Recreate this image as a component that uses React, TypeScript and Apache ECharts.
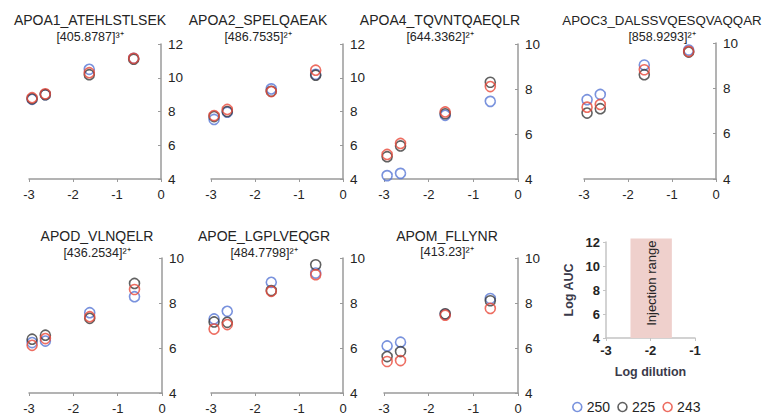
import React, { useEffect, useRef } from "react";
import * as echarts from "echarts";

const xDilution = [-2.93, -2.63, -1.63, -0.62];
const seriesNames = ["250", "225", "243"];
const seriesColors = ["#5877d4", "#3a3a3a", "#e8483a"];

const panelTitles = [
  "APOA1_ATEHLSTLSEK",
  "APOA2_SPELQAEAK",
  "APOA4_TQVNTQAEQLR",
  "APOC3_DALSSVQESQVAQQAR",
  "APOD_VLNQELR",
  "APOE_LGPLVEQGR",
  "APOM_FLLYNR",
];
const panelSubtitles = [
  "[405.8787]³⁺",
  "[486.7535]²⁺",
  "[644.3362]²⁺",
  "[858.9293]²⁺",
  "[436.2534]²⁺",
  "[484.7798]²⁺",
  "[413.23]²⁺",
];
const panelYMax = [12, 12, 10, 10, 10, 10, 10];

const p1Blue = [8.72, 9.0, 10.5, 11.15];
const p1Black = [8.75, 9.0, 10.18, 11.1];
const p1Red = [8.82, 9.05, 10.3, 11.15];
const p2Blue = [7.53, 7.96, 9.34, 10.2];
const p2Black = [7.7, 8.0, 9.2, 10.15];
const p2Red = [7.76, 8.12, 9.18, 10.45];
const p3Blue = [4.15, 4.25, 6.83, 7.45];
const p3Black = [4.99, 5.47, 6.9, 8.3];
const p3Red = [5.09, 5.58, 6.98, 8.11];
const p4Blue = [7.5, 7.73, 9.03, 9.69];
const p4Black = [6.91, 7.1, 8.6, 9.6];
const p4Red = [7.17, 7.29, 8.82, 9.63];
const p5Blue = [6.24, 6.31, 7.57, 8.28];
const p5Black = [6.39, 6.57, 7.32, 8.87];
const p5Red = [6.12, 6.42, 7.39, 8.6];
const p6Blue = [7.29, 7.63, 8.92, 9.33];
const p6Black = [7.16, 7.14, 8.55, 9.7];
const p6Red = [6.84, 7.04, 8.52, 9.26];
const p7Blue = [6.09, 6.26, 7.5, 8.2];
const p7Black = [5.62, 5.84, 7.52, 8.1];
const p7Red = [5.4, 5.44, 7.46, 7.76];

const panelValues = [
  [p1Blue, p1Black, p1Red],
  [p2Blue, p2Black, p2Red],
  [p3Blue, p3Black, p3Red],
  [p4Blue, p4Black, p4Red],
  [p5Blue, p5Black, p5Red],
  [p6Blue, p6Black, p6Red],
  [p7Blue, p7Black, p7Red],
];

const injectionRange = [-2.45, -1.52];
const injectionTop = 12.3;
const insetYTicks = [4, 12];
const insetXTicks = [-3, -1];

// layout (pixels)
const gridBoxes = [
  { left: 29, top: 44, width: 132, height: 135 },
  { left: 211, top: 44, width: 132, height: 135 },
  { left: 384, top: 44, width: 134, height: 135 },
  { left: 584, top: 43, width: 132, height: 136 },
  { left: 29, top: 258, width: 133, height: 135 },
  { left: 211, top: 258, width: 132, height: 135 },
  { left: 384, top: 258, width: 134, height: 135 },
];
const insetBox = { left: 606, top: 242, width: 89, height: 96 };
const titlePos = [
  { x: 90, y: 20, sy: 37 },
  { x: 258, y: 20, sy: 37 },
  { x: 440, y: 20, sy: 37 },
  { x: 662, y: 20, sy: 37 },
  { x: 97, y: 236, sy: 253 },
  { x: 264, y: 236, sy: 253 },
  { x: 447, y: 236, sy: 252 },
];

const FONT = "'Liberation Sans', Arial, sans-serif";
const TEXT = "#242424";

export default function App() {
  const ref = useRef<HTMLDivElement>(null);
  useEffect(() => {
    if (!ref.current) return;
    const chart = echarts.init(ref.current, undefined, { renderer: "svg" });

    const grids: any[] = gridBoxes.map((b) => ({ ...b, containLabel: false }));
    grids.push({ ...insetBox, containLabel: false });

    const xAxes: any[] = gridBoxes.map((_, i) => ({
      type: "value",
      gridIndex: i,
      min: -3,
      max: 0,
      interval: 1,
      axisLine: { show: true, lineStyle: { color: "#9a9a9a", width: 1.5 } },
      axisTick: { show: true, inside: false, length: 3, lineStyle: { color: "#9a9a9a" } },
      axisLabel: { fontSize: 13, color: TEXT, margin: 9, fontFamily: FONT },
      splitLine: { show: false },
    }));
    xAxes.push({
      type: "value",
      gridIndex: 7,
      min: insetXTicks[0],
      max: insetXTicks[1],
      interval: 1,
      name: "Log dilution",
      nameLocation: "middle",
      nameGap: 27,
      nameTextStyle: { fontSize: 12.5, fontWeight: "bold", color: "#3a3a4a", fontFamily: FONT },
      axisLine: { show: true, lineStyle: { color: "#c4c4c4", width: 1.5 } },
      axisTick: { show: true, length: 3, lineStyle: { color: "#c4c4c4" } },
      axisLabel: { fontSize: 13, fontWeight: "bold", color: TEXT, margin: 6, fontFamily: FONT },
      splitLine: { show: false },
    });

    const yAxes: any[] = gridBoxes.map((_, i) => ({
      type: "value",
      gridIndex: i,
      position: "right",
      min: 4,
      max: panelYMax[i],
      interval: 2,
      axisLine: { show: true, onZero: false, lineStyle: { color: "#9a9a9a", width: 1.5 } },
      axisTick: { show: true, inside: true, length: 3, lineStyle: { color: "#9a9a9a" } },
      axisLabel: { fontSize: 13.5, color: TEXT, margin: 7, fontFamily: FONT },
      splitLine: { show: false },
    }));
    yAxes.push({
      type: "value",
      gridIndex: 7,
      position: "left",
      min: insetYTicks[0],
      max: insetYTicks[1],
      interval: 2,
      name: "Log AUC",
      nameLocation: "middle",
      nameGap: 31,
      nameRotate: 90,
      nameTextStyle: { fontSize: 12.5, fontWeight: "bold", color: "#3a3a4a", fontFamily: FONT },
      axisLine: { show: true, onZero: false, lineStyle: { color: "#c4c4c4", width: 1.5 } },
      axisTick: { show: true, length: 3, lineStyle: { color: "#c4c4c4" } },
      axisLabel: { fontSize: 13, fontWeight: "bold", color: TEXT, margin: 6, fontFamily: FONT },
      splitLine: { show: false },
    });

    const series: any[] = [];
    panelValues.forEach((vals, pi) => {
      vals.forEach((ys, si) => {
        series.push({
          type: "scatter",
          name: seriesNames[si],
          xAxisIndex: pi,
          yAxisIndex: pi,
          symbol: "circle",
          symbolSize: 10,
          silent: true,
          itemStyle: {
            color: "rgba(255,255,255,0)",
            borderColor: seriesColors[si],
            borderWidth: 1.6,
          },
          data: ys.map((y, k) => [xDilution[k], y]),
          z: 2 + si,
        });
      });
    });

    series.push({
      type: "custom",
      name: "Injection range",
      xAxisIndex: 7,
      yAxisIndex: 7,
      silent: true,
      clip: false,
      data: [[injectionRange[0], injectionRange[1], injectionTop]],
      renderItem: (params: any, api: any) => {
        const x1 = api.value(0);
        const x2 = api.value(1);
        const top = api.value(2);
        const pTop = api.coord([x1, top]);
        const pBot = api.coord([x2, insetYTicks[0]]);
        const w = pBot[0] - pTop[0];
        const h = pBot[1] - pTop[1];
        return {
          type: "group",
          children: [
            {
              type: "rect",
              shape: { x: pTop[0], y: pTop[1], width: w, height: h },
              style: { fill: "#efd0cc" },
            },
            {
              type: "text",
              x: pTop[0] + w / 2,
              y: pTop[1] + h / 2 - 5,
              rotation: Math.PI / 2,
              style: {
                text: "Injection range",
                align: "center",
                verticalAlign: "middle",
                fontSize: 13,
                fill: TEXT,
                fontFamily: FONT,
              },
            },
          ],
        };
      },
      z: 1,
    });

    const graphic: any[] = [];
    titlePos.forEach((p, i) => {
      graphic.push({
        type: "text",
        x: p.x,
        y: p.y,
        silent: true,
        style: {
          text: panelTitles[i],
          align: "center",
          verticalAlign: "middle",
          fontSize: i === 3 ? 13.3 : 14,
          fill: TEXT,
          fontFamily: FONT,
        },
      });
      graphic.push({
        type: "text",
        x: p.x,
        y: p.sy,
        silent: true,
        style: {
          text: panelSubtitles[i],
          align: "center",
          verticalAlign: "middle",
          fontSize: 12.5,
          fill: TEXT,
          fontFamily: FONT,
        },
      });
    });

    chart.setOption({
      animation: false,
      backgroundColor: "#ffffff",
      textStyle: { fontFamily: FONT },
      grid: grids,
      xAxis: xAxes,
      yAxis: yAxes,
      series,
      graphic,
      legend: {
        data: seriesNames,
        left: 570,
        top: 398,
        padding: 2,
        itemWidth: 9,
        itemHeight: 9,
        itemGap: 7,
        icon: "circle",
        selectedMode: false,
        itemStyle: { color: "rgba(255,255,255,0)", borderWidth: 1.6 },
        textStyle: { fontSize: 14, color: TEXT, fontFamily: FONT },
      },
    });
    return () => chart.dispose();
  }, []);
  return (
    <div
      ref={ref}
      style={{ position: "absolute", left: 0, top: 0, width: 766, height: 418 }}
    />
  );
}
